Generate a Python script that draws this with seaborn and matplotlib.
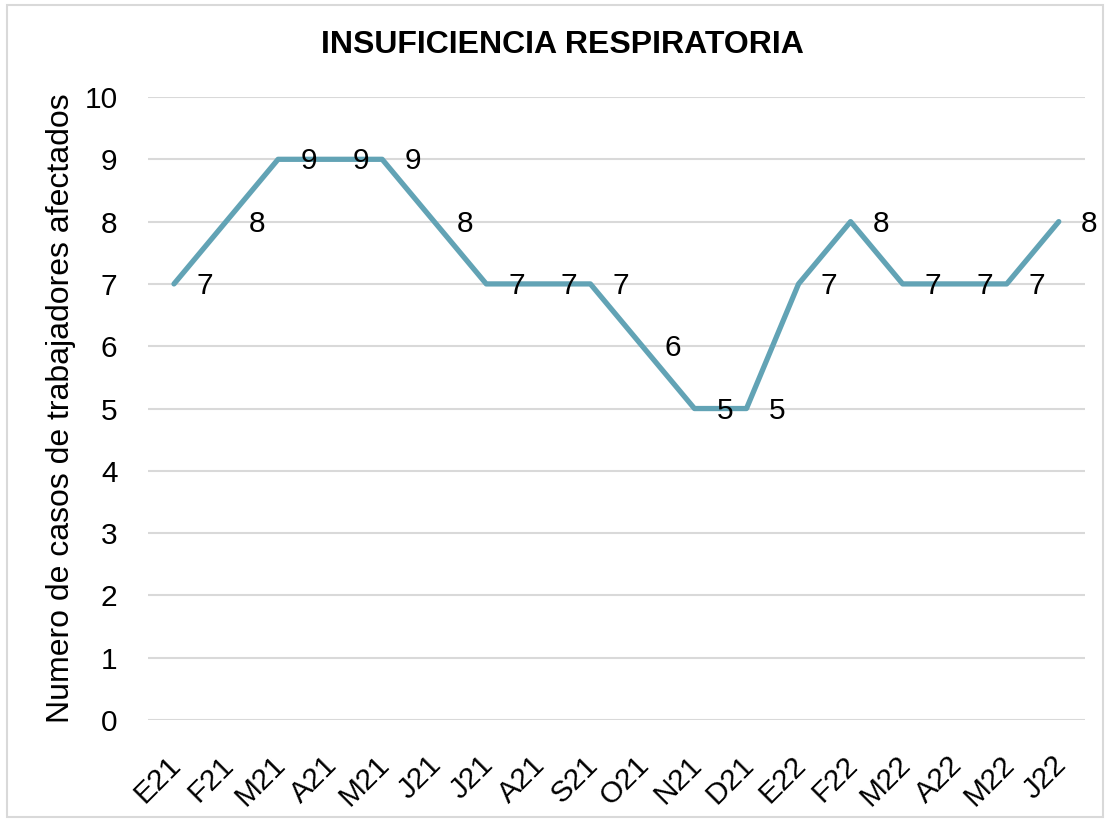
import matplotlib
matplotlib.use("Agg")
import matplotlib.pyplot as plt
import matplotlib.transforms as mtransforms
import seaborn as sns
import pandas as pd
from matplotlib.patches import Rectangle

# Data
months = ["E21", "F21", "M21", "A21", "M21", "J21", "J21", "A21", "S21",
          "O21", "N21", "D21", "E22", "F22", "M22", "A22", "M22", "J22"]
casos = [7, 8, 9, 9, 9, 8, 7, 7, 7, 6, 5, 5, 7, 8, 7, 7, 7, 8]
y_ticks = list(range(0, 11))

TITLE = "INSUFICIENCIA RESPIRATORIA"
Y_LABEL = "Numero de casos de trabajadores afectados"
LINE_COLOR = "#62A3B5"
GRID_COLOR = "#D9D9D9"
FS = 21.5

sns.set_style("white")
plt.rcParams['font.family'] = ['Liberation Sans', 'DejaVu Sans']
plt.rcParams['text.color'] = 'black'
plt.rcParams['axes.labelcolor'] = 'black'
plt.rcParams['xtick.color'] = 'black'
plt.rcParams['ytick.color'] = 'black'

df = pd.DataFrame({"pos": range(len(months)), "casos": casos})

fig = plt.figure(figsize=(11.1, 8.22), dpi=100)
ax = fig.add_axes([0.1333, 0.124, 0.844, 0.758])

ax.set_axisbelow(True)
ax.yaxis.grid(True, color=GRID_COLOR, linewidth=1.5)
ax.xaxis.grid(False)

sns.lineplot(data=df, x="pos", y="casos", color=LINE_COLOR, linewidth=3.8,
             ax=ax, legend=False)

# data labels to the right of each point
for x, y in zip(df["pos"], df["casos"]):
    ax.annotate(str(y), (x, y), xytext=(22, -1.5), textcoords="offset points",
                ha="center", va="center", fontsize=FS, color="black")

ax.set_xlim(-0.5, len(months) - 0.5)
ax.set_ylim(0, 10)
ax.set_yticks(y_ticks)
ax.set_yticklabels([str(t) for t in y_ticks], fontsize=FS)
ax.set_xticks(range(len(months)))
ax.set_xticklabels(months, rotation=45, ha="right", rotation_mode="anchor",
                   fontsize=FS)
ax.tick_params(axis="y", length=0, pad=22)
ax.tick_params(axis="x", length=0, pad=22)

# nudge rotated month labels a little to the left
shift = mtransforms.ScaledTranslation(-7 / 100, 0, fig.dpi_scale_trans)
for lbl in ax.get_xticklabels():
    lbl.set_transform(lbl.get_transform() + shift)

for s in ax.spines.values():
    s.set_visible(False)

ax.set_xlabel("")
ax.set_ylabel(Y_LABEL, fontsize=23, labelpad=6)
fig.text(0.507, 0.945, TITLE, ha="center", va="center", fontsize=23,
         fontweight="bold")

# light outer border like the chart area frame
fig.patches.append(Rectangle((0.006, 0.006), 0.988, 0.988,
                             transform=fig.transFigure, fill=False,
                             edgecolor=GRID_COLOR, linewidth=1.5))

fig.savefig("out.png", dpi=100)
plt.close(fig)
